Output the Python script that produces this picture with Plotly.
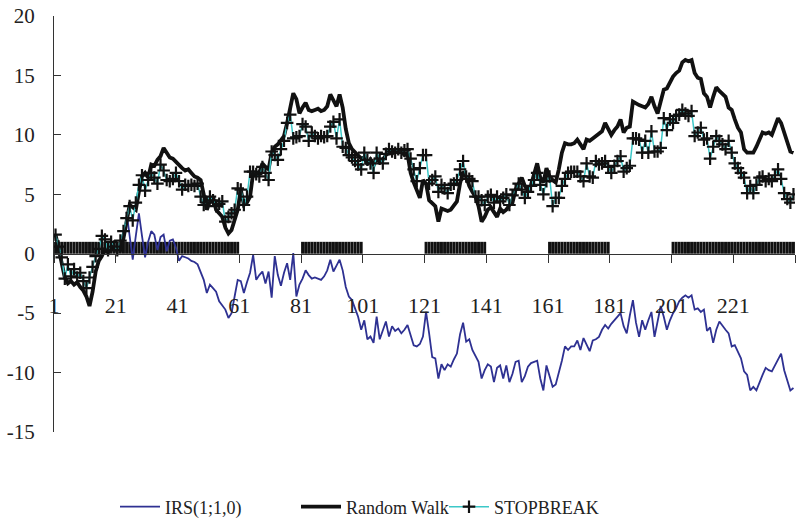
import plotly.graph_objects as go

periods = list(range(1, 241))

random_walk = [
    1.6, 0.3, -1.0, -2.0, -2.5, -2.3, -2.6, -2.4, -2.8, -3.1,
    -3.6, -4.4, -3.2, -1.5, -0.6, -0.2, 0.4, 0.1, 0.7, 0.3,
    0.6, 0.4, 1.3, 2.6, 4.1, 3.9, 3.7, 5.2, 6.5, 6.8,
    6.4, 7.5, 7.4, 7.9, 8.2, 8.9, 8.5, 8.1, 8.0, 7.7,
    7.5, 7.2, 7.0, 7.1, 6.8, 6.5, 6.4, 6.2, 5.0, 3.7,
    4.4, 4.8, 3.7, 3.4, 3.1, 2.2, 1.7, 2.0, 2.9, 3.7,
    5.4, 4.1, 4.3, 4.8, 6.8, 6.6, 6.8, 7.6, 7.3, 7.1,
    8.5, 9.0, 9.2, 9.5, 9.9, 11.0, 12.4, 13.5, 13.0, 11.8,
    12.3, 12.7, 12.1, 12.0, 12.1, 12.2, 12.0, 12.1, 12.4, 13.4,
    12.9, 12.4, 13.4, 12.3, 10.5, 9.3, 8.8, 8.5, 8.3, 8.0,
    8.1, 7.5, 7.9, 7.4, 8.1, 7.7, 7.9, 8.3, 8.5, 8.4,
    8.7, 8.5, 8.6, 8.3, 8.4, 6.8, 6.0, 5.4, 4.7, 6.2,
    5.9, 4.5, 4.3, 4.0, 2.7, 3.8, 3.7, 3.6, 3.7, 4.0,
    4.4, 5.9, 6.9, 6.5, 5.7, 5.2, 4.8, 4.0, 2.7, 3.1,
    3.7, 3.9, 3.5, 3.1, 3.8, 3.5, 3.7, 4.1, 4.3, 5.4,
    5.9, 6.4, 5.7, 5.3, 5.8, 6.8, 7.6, 6.4, 6.0, 7.2,
    6.5, 6.2, 6.0, 7.1, 8.5, 9.3, 9.2, 9.2, 9.3, 9.6,
    9.2, 8.8, 9.6, 9.5, 9.7, 9.9, 10.1, 10.3, 11.0, 10.5,
    10.0, 10.4, 10.7, 11.3, 10.2, 10.6, 10.7, 12.8, 12.6, 12.5,
    12.4, 12.3, 12.6, 13.2, 12.4, 11.8, 12.8, 13.8, 13.9, 14.4,
    14.9, 15.2, 15.4, 16.1, 16.3, 16.2, 16.3, 15.2, 14.8, 14.7,
    13.5, 13.2, 12.3, 13.2, 14.0, 13.7, 13.5, 13.2, 12.3, 12.1,
    11.3, 10.6, 10.2, 8.8, 8.5, 8.5, 8.5, 9.0, 9.6, 10.2,
    10.1, 10.2, 10.0, 10.7, 11.4, 11.0, 10.2, 9.3, 8.6, 8.5,
]

stopbreak = [
    1.6, 0.6, -0.3, -2.1, -0.9, -1.9, -1.3, -2.0, -1.6, -2.3,
    -2.9, -2.0, -1.1, -0.2, 0.4, 1.5, 1.2, 0.3, 1.0, 0.6,
    0.3, 1.1, 1.9, 3.0, 4.0, 2.8, 4.3, 5.8, 6.6, 5.3,
    6.2, 6.8, 6.4, 5.9, 7.5, 7.0, 6.2, 6.1, 6.3, 6.8,
    6.1, 5.4, 5.8, 5.7, 5.8, 5.7, 5.9, 4.8, 4.1, 4.3,
    4.8, 4.5, 4.0, 4.2, 4.4, 2.7, 3.1, 3.4, 3.7, 5.5,
    5.4, 4.1, 4.8, 6.9, 6.9, 6.7, 6.5, 7.3, 6.8, 6.2,
    8.6, 8.3, 7.9, 8.8, 9.5, 11.0, 11.7, 9.7, 9.8, 9.9,
    10.9, 10.7, 9.5, 10.2, 9.9, 9.7, 9.9, 9.8, 9.9, 10.7,
    11.1, 9.7, 11.3, 9.0, 8.9, 8.3, 8.1, 7.8, 7.5, 7.1,
    8.5, 7.9, 7.6, 6.8, 8.5, 8.0, 7.6, 8.4, 8.8, 8.6,
    8.5, 8.8, 8.5, 8.7, 8.8, 8.0, 7.1, 6.1, 7.2, 8.3,
    8.3, 5.9, 6.2, 6.5, 5.2, 5.8, 5.5, 5.1, 5.8, 5.9,
    6.2, 7.1, 7.8, 6.5, 6.3, 6.1, 4.8, 4.8, 4.5, 4.1,
    4.8, 4.95, 4.3, 4.8, 4.4, 4.7, 5.0, 4.1, 4.9, 5.4,
    5.9, 5.4, 4.7, 5.2, 5.7, 6.2, 6.8, 5.8, 5.0, 6.1,
    6.5, 4.0, 4.7, 4.7, 5.7, 6.3, 6.8, 6.9, 6.9, 6.9,
    6.5, 6.1, 7.6, 6.5, 6.4, 7.8, 7.5, 7.6, 7.8, 7.3,
    6.8, 7.4, 7.8, 8.2, 6.9, 7.2, 7.4, 9.7, 9.7, 9.6,
    8.5, 9.5, 8.5, 10.3, 8.6, 8.6, 8.9, 11.4, 10.4, 11.3,
    11.0, 11.6, 11.7, 12.1, 11.8, 11.6, 12.0, 9.9, 10.2, 10.6,
    9.6, 9.7, 8.0, 9.0, 9.9, 9.5, 9.2, 8.8, 9.5, 8.5,
    7.6, 7.2, 6.8, 6.4, 5.1, 5.7, 5.1, 5.8, 6.4, 6.5,
    6.1, 6.3, 6.1, 6.6, 7.1, 6.3, 5.1, 4.6, 4.3, 5.0,
]

irs = [None] * 23 + [
    3.5, 1.5, -0.5, 1.5, 3.4, 1.5, -0.3,
    1.0, 1.9, 1.6, 0.3, 1.4, 1.6, 0.2, 1.1, 1.2, 0.5,
    -0.6, -0.2, -0.3, -0.4, -0.6, -0.7, -0.9, -1.5, -2.2, -3.3,
    -2.6, -2.9, -3.2, -4.0, -4.4, -4.7, -5.4, -5.0, -3.6, -2.2,
    -2.3, -3.3, -2.4, -1.6, -0.1, -2.2, -1.8, -1.5, -2.5, -1.5,
    -3.7, -0.2, -1.8, -2.7, -1.6, -0.8, -2.2, 0.05, -3.6, -2.6,
    -2.1, -1.4, -1.8, -2.1, -2.0, -2.1, -2.2, -1.9, -1.4, -0.5,
    -1.5, -1.0, -0.5, -1.4, -2.8, -3.6, -3.9, -4.6, -5.3, -6.4,
    -5.6, -7.2, -6.97, -7.5, -5.3, -7.2, -6.5, -5.7, -6.97, -6.1,
    -6.5, -6.3, -6.7, -6.4, -6.0, -6.8, -7.7, -7.8, -7.6, -6.97,
    -4.9, -6.7, -8.7, -8.8, -10.5, -9.3, -9.8, -9.3, -9.5, -8.9,
    -8.4, -6.8, -5.8, -7.4, -7.2, -8.1, -8.6, -9.1, -10.5, -9.8,
    -9.3, -9.5, -10.8, -9.6, -9.4, -10.5, -9.4, -10.8, -10.1, -9.1,
    -9.0, -10.8, -10.3, -9.5, -9.2, -9.1, -9.0, -10.5, -11.5, -9.4,
    -10.3, -11.2, -11.0, -10.1, -9.0, -7.8, -8.1, -7.8, -7.8, -7.3,
    -8.1, -7.1, -7.6, -8.2, -7.3, -7.2, -7.0, -6.4, -6.0, -6.3,
    -5.9, -5.6, -5.3, -5.0, -6.1, -6.7, -5.2, -3.9, -5.8, -7.0,
    -5.6, -6.4, -5.6, -4.9, -7.0, -5.6, -4.4, -5.3, -6.4, -5.6,
    -5.0, -4.6, -4.0, -3.7, -3.5, -3.7, -3.5, -4.7, -4.6, -4.9,
    -4.7, -6.5, -6.2, -7.5, -6.4, -5.7, -6.1, -6.4, -6.7, -7.8,
    -7.7, -8.2, -8.8, -9.9, -10.2, -11.5, -11.2, -11.5, -10.8, -10.2,
    -9.6, -9.8, -9.9, -9.4, -8.9, -8.4, -9.8, -10.6, -11.5, -11.3,
]

regime = ([1] * 60 + [0] * 20 + [1] * 20 + [0] * 20 + [1] * 20 + [0] * 20
          + [1] * 20 + [0] * 20 + [1] * 40)

tick_positions = [0.5 + 20 * k for k in range(13)]
tick_labels = [str(1 + 20 * k) for k in range(12)] + [""]

FONT = "Liberation Serif, Times New Roman, serif"

fig = go.Figure()
fig.add_trace(go.Bar(x=periods, y=regime, marker=dict(color="#111111", line=dict(width=0)),
                     width=0.95, showlegend=False, hoverinfo="skip"))
fig.add_trace(go.Scatter(x=periods, y=irs, mode="lines", name="IRS(1;1,0)",
                         line=dict(color="#2E3192", width=1.8), legend="legend"))
fig.add_trace(go.Scatter(x=periods, y=random_walk, mode="lines", name="Random Walk",
                         line=dict(color="#111111", width=3.8), legend="legend2"))
fig.add_trace(go.Scatter(x=periods, y=stopbreak, mode="lines+markers", name="STOPBREAK",
                         line=dict(color="#3CC8C8", width=1.5),
                         marker=dict(symbol="cross-thin", size=9,
                                     line=dict(width=2.2, color="#111111")),
                         legend="legend3"))

leg_common = dict(orientation="h", yanchor="middle", yref="container", y=1 - 507 / 521,
                  xanchor="left", xref="container",
                  font=dict(family=FONT, size=18, color="#222222"),
                  bgcolor="rgba(0,0,0,0)", itemwidth=40)

fig.update_layout(
    width=797, height=521,
    margin=dict(l=54, r=2, t=16, b=89, autoexpand=False),
    paper_bgcolor="white", plot_bgcolor="white",
    bargap=0.05,
    xaxis=dict(range=[0.5, 240.5], anchor="free", position=15 / 35,
               tickmode="array", tickvals=tick_positions, ticktext=tick_labels,
               showline=True, linecolor="#333333", linewidth=1,
               ticks="outside", ticklen=8, tickcolor="#333333",
               showgrid=False, zeroline=False, ticklabelstandoff=24,
               tickfont=dict(family=FONT, size=22, color="#222222")),
    yaxis=dict(range=[-15, 20], tickmode="array", tickvals=[-15, -10, -5, 0, 5, 10, 15, 20],
               ticktext=["-15", "-10", "-5", "0", "5", "10", "15", "20"],
               showline=True, linecolor="#333333", linewidth=1,
               ticks="inside", ticklen=7, tickcolor="#333333",
               showgrid=False, zeroline=False, ticklabelstandoff=14,
               tickfont=dict(family=FONT, size=21, color="#222222")),
    legend=dict(leg_common, x=115 / 797),
    legend2=dict(leg_common, x=296 / 797),
    legend3=dict(leg_common, x=444 / 797),
)

fig.write_html("out.html")
